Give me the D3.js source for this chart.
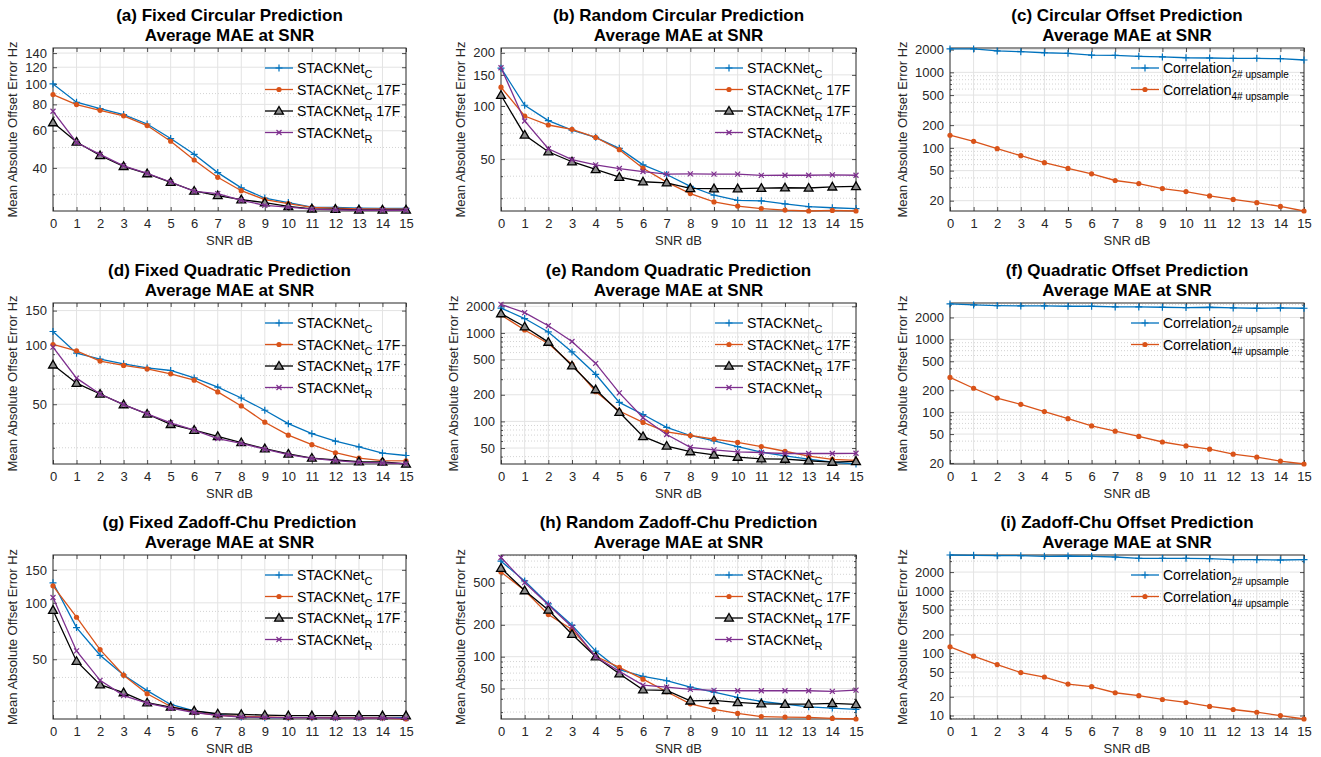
<!DOCTYPE html>
<html>
<head>
<meta charset="utf-8">
<script src="https://cdn.jsdelivr.net/npm/d3@7"></script>
<style>
  body { margin: 0; background: #fff; }
  text { font-family: "Liberation Sans", Arial, Helvetica, sans-serif; }
</style>
</head>
<body>
<script>
// SNR steps on the x axis
const snr = [0, 1, 2, 3, 4, 5, 6, 7, 8, 9, 10, 11, 12, 13, 14, 15]

// (a) fixed circular
const aNetC   = [100, 81.9, 76.4, 71.6, 64.6, 55.1, 46.4, 38, 32.2, 28.8, 27.4, 26.1, 26, 25.8, 25.7, 25.7]
const aNetC17 = [89, 79.8, 75, 70.6, 63.5, 53.5, 43.6, 36.1, 31.2, 28.3, 27.1, 26, 25.8, 25.6, 25.6, 25.5]
const aNetR17 = [65.6, 53.1, 45.8, 40.7, 37.6, 34.2, 31.1, 29.6, 28.3, 27.4, 26.3, 25.6, 25.5, 25.3, 25.3, 25.3]
const aNetR   = [74.2, 52.8, 46.4, 40.9, 37.7, 34.3, 31, 30.2, 28.1, 26.6, 26.1, 25.5, 25.3, 25.2, 25.2, 25.2]
// (b) random circular
const bNetC   = [163.7, 100.9, 82.6, 73, 66.4, 57.5, 46.4, 40.9, 35, 31.2, 29.2, 29, 27.9, 26.9, 26.5, 26.2]
const bNetC17 = [127.7, 87.7, 78, 73.7, 66.3, 56.5, 44.4, 37, 31.9, 28.6, 27.1, 26.2, 25.7, 25.4, 25.6, 25.4]
const bNetR17 = [115, 68.5, 55, 48.3, 43.7, 39.5, 37.2, 36.7, 34.1, 34, 34, 34.2, 34.4, 34.3, 34.8, 35]
const bNetR   = [164.7, 82.2, 57.2, 49.6, 46.4, 44.2, 42.5, 41.1, 41.2, 41.1, 41.1, 40.4, 40.5, 40.5, 40.7, 40.5]
// (c) circular offset
const cCorr2 = [2041, 2041, 1919, 1880, 1817, 1787, 1695, 1678, 1629, 1599, 1561, 1549, 1533, 1533, 1516, 1456]
const cCorr4 = [147, 122, 97.7, 78.8, 63.6, 53.4, 45.3, 37, 33.7, 28.9, 26.4, 23.1, 20.8, 18.8, 16.8, 14.6]
// (d) fixed quadratic
const dNetC   = [117.4, 91, 84.8, 80.3, 76.6, 74.3, 68.1, 61.1, 53.8, 46.6, 39.8, 35.4, 32.4, 30.3, 28.2, 27.4]
const dNetC17 = [100.8, 93.6, 83, 78.8, 75.7, 71.4, 66.3, 57.8, 49, 40.5, 34.8, 31.1, 28.3, 26.6, 25.8, 25.7]
const dNetR17 = [79.4, 64, 56.4, 49.8, 44.6, 39.5, 36.9, 34.3, 31.9, 29.7, 27.9, 26.6, 26, 25.5, 25.4, 24.8]
const dNetR   = [97.7, 67.9, 56.4, 49.8, 44.7, 40.2, 36.9, 33.4, 31.6, 29.5, 27.7, 26.5, 25.8, 25.3, 25.1, 24.9]
// (e) random quadratic
const eNetC   = [1911, 1455, 1026, 610, 341, 164, 119.6, 85.8, 69.3, 60.4, 51.9, 44.9, 40.8, 37.5, 34.7, 33]
const eNetC17 = [1598, 1080, 761, 441, 217, 131, 97.5, 76.1, 69.3, 63.1, 57.9, 51.9, 46, 40.5, 37.2, 36.2]
const eNetR17 = [1654, 1176, 788, 426, 229, 127, 67.6, 52.7, 45.6, 41.9, 39.5, 37.8, 37.5, 35.9, 34.7, 35.3]
const eNetR   = [2100, 1696, 1206, 801, 452, 210, 110, 71.1, 51, 47.7, 45.3, 44.5, 43.4, 43.4, 43.4, 43.6]
// (f) quadratic offset
const fCorr2 = [3066, 2972, 2912, 2882, 2882, 2853, 2853, 2793, 2793, 2763, 2734, 2763, 2705, 2677, 2705, 2677]
const fCorr4 = [300, 213, 156, 128, 102, 81.3, 64.7, 54.8, 46.4, 38.9, 34.4, 31, 26.5, 24.1, 21.3, 19.4]
// (g) fixed zadoff-chu
const gNetC   = [127.9, 73.8, 52.5, 41.2, 34, 28.7, 26.5, 25.4, 24.6, 24.4, 24.4, 24.4, 24.4, 24.4, 24.4, 24.4]
const gNetC17 = [123.3, 83.8, 56.3, 41.1, 32.7, 28, 26.1, 25.1, 24.8, 24.6, 24.4, 24.4, 24.4, 24.4, 24.3, 24]
const gNetR17 = [91.4, 48.8, 36.6, 33.2, 29.3, 27.8, 26.5, 25.6, 25.4, 25.2, 25, 25, 25, 25, 25, 25]
const gNetR   = [106.8, 55.4, 38.6, 32, 29.2, 27.4, 26, 25.1, 24.6, 24.5, 24.4, 24.4, 24.3, 24.3, 24.3, 24.2]
// (h) random zadoff-chu
const hNetC   = [798, 520, 315, 198, 113, 75.3, 65.2, 59.3, 51.6, 46.3, 41.2, 37.8, 35.6, 33.6, 32.7, 31.8]
const hNetC17 = [632, 421, 250, 181, 101, 79.3, 61.4, 46.7, 35.9, 31.8, 29.1, 27.2, 26.9, 26.7, 26.1, 25.8]
const hNetR17 = [685, 421, 276, 163, 100, 69, 48.7, 48.1, 38.3, 38.6, 37, 35.9, 35.6, 35.6, 36.2, 35.4]
const hNetR   = [865, 501, 310, 191, 100, 72.7, 53.9, 51.6, 49.1, 48.1, 47.7, 47.7, 47.7, 47.7, 47, 48.4]
// (i) zadoff-chu offset
const iCorr2 = [3760, 3715, 3670, 3670, 3580, 3623, 3580, 3492, 3323, 3323, 3323, 3283, 3162, 3162, 3124, 3162]
const iCorr4 = [126.5, 89.5, 65.6, 48.8, 41.5, 32, 29, 23.2, 20.8, 18.1, 16.2, 14, 12.5, 11.3, 10, 8.8]

// y tick labels and limits
const aTicks = [40, 60, 80, 100, 120, 140], aLim = [25, 148]
const bTicks = [50, 100, 150, 200], bLim = [25.4, 213]
const cTicks = [20, 50, 100, 200, 500, 1000, 2000], cLim = [14.6, 2100]
const dTicks = [50, 100, 150], dLim = [24.8, 164]
const eTicks = [50, 100, 200, 500, 1000, 2000], eLim = [33, 2180]
const fTicks = [20, 50, 100, 200, 500, 1000, 2000], fLim = [19.4, 3160]
const gTicks = [50, 100, 150], gLim = [24, 180]
const hTicks = [50, 100, 200, 500], hLim = [25.8, 913]
const iTicks = [10, 20, 50, 100, 200, 500, 1000, 2000], iLim = [8.8, 3760]

const netNames = [["STACKNet", "C", ""], ["STACKNet", "C", " 17F"], ["STACKNet", "R", " 17F"], ["STACKNet", "R", ""]]
const corrNames = [["Correlation", "2# upsample", ""], ["Correlation", "4# upsample", ""]]

const colBlue = "#0072BD", colOrange = "#D95319", colBlack = "#000000", colPurple = "#7E2F8E"
const netStyle = [[colBlue, "plus"], [colOrange, "dot"], [colBlack, "tri"], [colPurple, "cross"]]

const panels = [
  { t: ["(a) Fixed Circular Prediction", "Average MAE at SNR"], c: 0, r: 0, ticks: aTicks, lim: aLim, data: [aNetC, aNetC17, aNetR17, aNetR], names: netNames },
  { t: ["(b) Random Circular Prediction", "Average MAE at SNR"], c: 1, r: 0, ticks: bTicks, lim: bLim, data: [bNetC, bNetC17, bNetR17, bNetR], names: netNames },
  { t: ["(c) Circular Offset Prediction", "Average MAE at SNR"], c: 2, r: 0, ticks: cTicks, lim: cLim, data: [cCorr2, cCorr4], names: corrNames },
  { t: ["(d) Fixed Quadratic Prediction", "Average MAE at SNR"], c: 0, r: 1, ticks: dTicks, lim: dLim, data: [dNetC, dNetC17, dNetR17, dNetR], names: netNames },
  { t: ["(e) Random Quadratic Prediction", "Average MAE at SNR"], c: 1, r: 1, ticks: eTicks, lim: eLim, data: [eNetC, eNetC17, eNetR17, eNetR], names: netNames },
  { t: ["(f) Quadratic Offset Prediction", "Average MAE at SNR"], c: 2, r: 1, ticks: fTicks, lim: fLim, data: [fCorr2, fCorr4], names: corrNames },
  { t: ["(g) Fixed Zadoff-Chu Prediction", "Average MAE at SNR"], c: 0, r: 2, ticks: gTicks, lim: gLim, data: [gNetC, gNetC17, gNetR17, gNetR], names: netNames },
  { t: ["(h) Random Zadoff-Chu Prediction", "Average MAE at SNR"], c: 1, r: 2, ticks: hTicks, lim: hLim, data: [hNetC, hNetC17, hNetR17, hNetR], names: netNames },
  { t: ["(i) Zadoff-Chu Offset Prediction", "Average MAE at SNR"], c: 2, r: 2, ticks: iTicks, lim: iLim, data: [iCorr2, iCorr4], names: corrNames }
]

// panel boxes
const colL = [53, 501, 950], colR = [406, 856, 1304]
const rowT = [48, 303, 555], rowB = [211, 464, 719]
const ink = "#262626"

const svg = d3.select("body").append("svg")
  .attr("width", 1321).attr("height", 757)

function marker(g, kind, color, x, y) {
  if (kind === "plus") {
    g.append("path").attr("d", `M${x - 3.5},${y}H${x + 3.5}M${x},${y - 3.5}V${y + 3.5}`)
      .attr("stroke", color).attr("stroke-width", 1.2)
  } else if (kind === "dot") {
    g.append("circle").attr("cx", x).attr("cy", y).attr("r", 2.6).attr("fill", color)
  } else if (kind === "tri") {
    g.append("path").attr("d", d3.symbol(d3.symbolTriangle, 34)())
      .attr("transform", `translate(${x},${y + 0.6})`)
      .attr("fill", "#8a8a8a").attr("stroke", color).attr("stroke-width", 1.3)
  } else {
    g.append("path").attr("d", `M${x - 2.5},${y - 2.5}L${x + 2.5},${y + 2.5}M${x - 2.5},${y + 2.5}L${x + 2.5},${y - 2.5}`)
      .attr("stroke", color).attr("stroke-width", 1.2)
  }
}

panels.forEach(p => {
  const L = colL[p.c], R = colR[p.c], T = rowT[p.r], B = rowB[p.r]
  const x = d3.scaleLinear().domain([0, 15]).range([L, R])
  const y = d3.scaleLog().domain(p.lim).range([B, T])
  const g = svg.append("g")

  // grid
  const minor = y.ticks().filter(v => !p.ticks.includes(v) && v >= p.lim[0] && v <= p.lim[1])
  g.selectAll(".mg").data(minor).enter().append("line")
    .attr("x1", L).attr("x2", R).attr("y1", d => y(d)).attr("y2", d => y(d))
    .attr("stroke", "#c8c8c8").attr("stroke-width", 0.8).attr("stroke-dasharray", "1,2")
  g.selectAll(".vg").data(snr.slice(1, 15)).enter().append("line")
    .attr("x1", d => x(d)).attr("x2", d => x(d)).attr("y1", T).attr("y2", B)
    .attr("stroke", "#e3e3e3").attr("stroke-width", 1)
  g.selectAll(".hg").data(p.ticks).enter().append("line")
    .attr("x1", L).attr("x2", R).attr("y1", d => y(d)).attr("y2", d => y(d))
    .attr("stroke", "#e3e3e3").attr("stroke-width", 1)

  // axes with inward ticks on all four sides
  const ax = g.append("g").attr("transform", `translate(0,${B})`)
    .call(d3.axisBottom(x).tickValues(snr).tickSizeInner(-4).tickSizeOuter(0).tickPadding(8))
  const axTop = g.append("g").attr("transform", `translate(0,${T})`)
    .call(d3.axisTop(x).tickValues(snr).tickSizeInner(-4).tickSizeOuter(0).tickFormat(""))
  const ay = g.append("g").attr("transform", `translate(${L},0)`)
    .call(d3.axisLeft(y).tickValues(p.ticks).tickFormat(d3.format("d")).tickSizeInner(-4).tickSizeOuter(0).tickPadding(6))
  const ayR = g.append("g").attr("transform", `translate(${R},0)`)
    .call(d3.axisRight(y).tickValues(p.ticks).tickFormat("").tickSizeInner(-4).tickSizeOuter(0))
  const ayMin = g.append("g").attr("transform", `translate(${L},0)`)
    .call(d3.axisLeft(y).tickValues(minor).tickFormat("").tickSizeInner(-2).tickSizeOuter(0))
  const ayMinR = g.append("g").attr("transform", `translate(${R},0)`)
    .call(d3.axisRight(y).tickValues(minor).tickFormat("").tickSizeInner(-2).tickSizeOuter(0))
  ;[ax, axTop, ay, ayR, ayMin, ayMinR].forEach(a => {
    a.select(".domain").remove()
    a.selectAll("line").attr("stroke", ink).attr("stroke-width", 0.8)
    a.selectAll("text").attr("fill", ink).attr("font-size", 13)
      .attr("font-family", "'Liberation Sans', Arial, sans-serif")
  })
  g.append("rect").attr("x", L).attr("y", T).attr("width", R - L).attr("height", B - T)
    .attr("fill", "none").attr("stroke", ink).attr("stroke-width", 1)

  // series
  const line = d3.line().x((d, i) => x(snr[i])).y(d => y(d))
  p.data.forEach((vals, k) => {
    const [color, kind] = netStyle[k]
    g.append("path").datum(vals).attr("d", line)
      .attr("fill", "none").attr("stroke", color).attr("stroke-width", 1.3)
    vals.forEach((v, i) => marker(g, kind, color, x(snr[i]), y(v)))
  })

  // legend (no box)
  const corr = p.names === corrNames
  const lx = corr ? R - 173 : R - 141
  p.names.forEach((nm, k) => {
    const ly = T + 20 + k * 21.5
    const [color, kind] = netStyle[k]
    g.append("line").attr("x1", lx).attr("x2", lx + 28).attr("y1", ly).attr("y2", ly)
      .attr("stroke", color).attr("stroke-width", 1.3)
    marker(g, kind, color, lx + 14, ly)
    const t = g.append("text").attr("x", lx + 32).attr("y", ly + 5)
      .attr("font-size", 14).attr("fill", "#000")
    t.append("tspan").text(nm[0])
    t.append("tspan").attr("font-size", corr ? 10 : 11).attr("dy", 5).text(nm[1])
    if (nm[2]) t.append("tspan").attr("dy", -5).text(nm[2])
  })

  // titles and labels
  g.append("text").attr("x", (L + R) / 2).attr("y", T - 27).attr("text-anchor", "middle")
    .attr("font-size", 17).attr("font-weight", "bold").text(p.t[0])
  g.append("text").attr("x", (L + R) / 2).attr("y", T - 7).attr("text-anchor", "middle")
    .attr("font-size", 17).attr("font-weight", "bold").text(p.t[1])
  g.append("text").attr("x", (L + R) / 2).attr("y", B + 34).attr("text-anchor", "middle")
    .attr("font-size", 13).attr("fill", ink).text("SNR dB")
  const digits = String(d3.max(p.ticks)).length
  g.append("text")
    .attr("transform", `translate(${L - 15 - 7 * digits},${(T + B) / 2}) rotate(-90)`)
    .attr("text-anchor", "middle").attr("font-size", 13).attr("fill", ink)
    .text("Mean Absolute Offset Error Hz")
})
</script>
</body>
</html>
